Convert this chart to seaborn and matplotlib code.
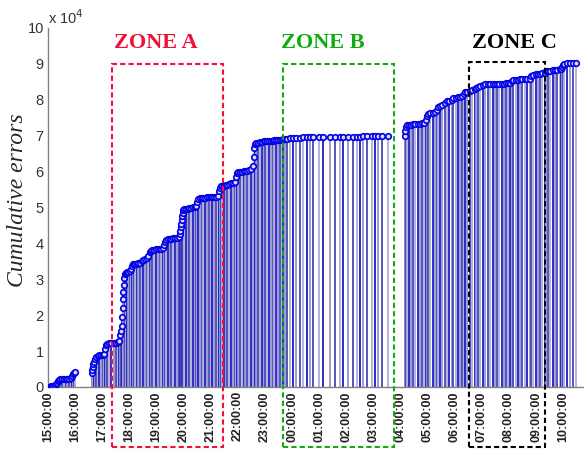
import numpy as np
import pandas as pd
import matplotlib
matplotlib.use("Agg")
import matplotlib.pyplot as plt
import matplotlib.transforms as mtransforms
from matplotlib.patches import Rectangle
import seaborn as sns

# tiempo en minutos desde las 15:00 y errores acumulados
minutes_a = [3, 6, 9, 12, 15, 18, 20, 22, 24, 27, 31, 35, 39, 43, 47, 51, 54, 56, 58, 60]
errors_a = [100, 150, 200, 300, 400, 700, 1200, 1700, 2000, 2100, 2100, 2200, 2200, 2300, 2300, 2500, 3000, 3500, 3900, 4300]

minutes_b = [97, 98, 99, 100, 102, 104, 107, 110, 113, 117, 121, 124, 126, 128, 131, 135, 140, 145, 150, 155]
errors_b = [4000, 4800, 5600, 6300, 7000, 7800, 8400, 8700, 8900, 9000, 9000, 9200, 10500, 11800, 12100, 12200, 12200, 12300, 12300, 12400]

minutes_c = [158, 160, 162, 163, 164, 165, 166, 167, 168, 169, 170, 172, 175, 178, 181, 184, 186, 188, 190, 193,
             196, 200, 204, 207, 210, 214, 218, 222, 226, 228, 231, 235, 239, 243, 247, 251, 255, 257, 259, 261,
             265, 269, 273, 277, 281, 285, 289, 292, 293, 294, 295, 296, 297, 298, 299, 301, 305, 309, 313, 317,
             321, 325, 328, 330, 332, 336, 340, 344, 348, 352, 356, 360, 364, 368, 372, 376, 378, 380, 383, 385,
             389, 393, 397, 401, 405, 409, 413, 416, 418, 421, 425, 429, 433, 437, 441, 445, 449, 453, 455, 457,
             459, 461, 465, 469, 473, 477, 481, 485, 489, 493, 497, 501, 505, 509, 513, 517, 521, 525]
errors_c = [12800, 14500, 15500, 17000, 19500, 22000, 24500, 26500, 28500, 30500, 31500, 31800, 31900, 32000, 32200, 33000, 33800, 34200, 34300, 34400,
            34400, 34500, 34500, 35000, 35500, 35600, 35800, 36500, 37500, 38000, 38200, 38300, 38400, 38400, 38500, 38500, 38600, 39500, 40500, 41000,
            41200, 41300, 41300, 41400, 41500, 41600, 41800, 42500, 43500, 44500, 45500, 46500, 47500, 48500, 49200, 49500, 49600, 49700, 49800, 49900,
            50000, 50100, 50300, 51500, 52500, 52600, 52600, 52700, 52700, 52800, 52800, 52900, 52900, 53000, 53000, 53200, 54500, 55500, 56000, 56000,
            56100, 56200, 56300, 56500, 56700, 56800, 57000, 58500, 59500, 59800, 59900, 60000, 60100, 60200, 60300, 60500, 60800, 61500, 64000, 66500,
            67800, 68000, 68100, 68200, 68300, 68400, 68400, 68500, 68500, 68600, 68600, 68700, 68800, 68800, 68900, 68900, 69000, 69100]

minutes_d = [529, 536, 542, 548, 558, 565, 573, 580, 587, 599, 609, 624, 635, 646, 653, 664, 675, 684, 691, 698,
             706, 717, 724, 731, 740, 753]
errors_d = [69200, 69300, 69300, 69400, 69400, 69500, 69500, 69500, 69600, 69600, 69600, 69600, 69700, 69700, 69700, 69700, 69700, 69700, 69700, 69800,
            69800, 69800, 69800, 69800, 69800, 69800]

minutes_e = [790, 791, 792, 794, 798, 803, 808, 813, 818, 823, 828, 833, 836, 838, 841, 846, 851, 856, 861, 864,
             868, 873, 878, 883, 888, 893, 897, 902, 907, 912, 917, 920, 923, 928, 933, 939, 944, 948, 952, 957,
             963, 968, 973, 979, 984, 989, 994, 999, 1004, 1009, 1014, 1019, 1023, 1027, 1030, 1035, 1040, 1045, 1050, 1055,
             1060, 1066, 1070, 1074, 1079, 1084, 1089, 1094, 1099, 1103, 1107, 1112, 1117, 1122, 1127, 1132, 1136, 1138, 1140, 1142,
             1148, 1155, 1162, 1168]
errors_e = [70000, 71200, 72400, 73000, 73100, 73100, 73200, 73200, 73300, 73300, 73400, 73500, 74500, 75500, 76000, 76200, 76300, 76500, 77200, 78000,
            78300, 78500, 79000, 79600, 79800, 80000, 80500, 80600, 80700, 80800, 81000, 81700, 82200, 82300, 82400, 82800, 83000, 83300, 83600, 83800,
            84200, 84300, 84300, 84300, 84400, 84400, 84400, 84500, 84500, 84500, 84600, 84600, 84700, 85200, 85500, 85600, 85600, 85700, 85700, 85800,
            85800, 85900, 86500, 87000, 87100, 87200, 87300, 87400, 87600, 87900, 88000, 88100, 88200, 88300, 88400, 88500, 88700, 89200, 89800, 90000,
            90200, 90300, 90300, 90300]

hour_labels = ['15:00:00', '16:00:00', '17:00:00', '18:00:00', '19:00:00', '20:00:00', '21:00:00',
               '22:00:00', '23:00:00', '00:00:00', '01:00:00', '02:00:00', '03:00:00', '04:00:00',
               '05:00:00', '06:00:00', '07:00:00', '08:00:00', '09:00:00', '10:00:00']

# zonas: etiqueta, inicio, fin (minutos), color
zone_labels = ['ZONE A', 'ZONE B', 'ZONE C']
zone_start = [142, 520, 932]
zone_end = [388, 766, 1100]
zone_colors = ['#f0103a', '#12aa12', '#000000']

df = pd.DataFrame({
    'minuto': minutes_a + minutes_b + minutes_c + minutes_d + minutes_e,
    'errores': errors_a + errors_b + errors_c + errors_d + errors_e,
})

sns.set_style("white")
plt.rcParams['font.family'] = ['Liberation Sans', 'DejaVu Sans']

fig = plt.figure(figsize=(5.84, 4.5), dpi=100)
ax = fig.add_axes([48 / 584, 63 / 450, 535 / 584, 359 / 450])

# tallos con tonos alternados (como el antialiasing de matlab)
tonos = ['#1c1cc4', '#9494d0', '#4848b4', '#acacda']
colores = [tonos[i % len(tonos)] for i in range(len(df))]
ax.vlines(df['minuto'], 0, df['errores'], colors=colores, linewidth=1.3, zorder=2)

sns.scatterplot(data=df, x='minuto', y='errores', ax=ax, marker='o', s=16,
                color='#dcdcf2', edgecolor='#0000e6', linewidth=1.2, zorder=3, legend=False)

ax.set_xlim(0, 1184)
ax.set_ylim(0, 100000)
ax.set_yticks(np.arange(0, 100001, 10000))
ax.set_yticklabels([str(i) for i in range(11)], fontsize=10.5, color='#333333')
ax.set_xticks([i * 60 for i in range(len(hour_labels))])
ax.set_xticklabels(hour_labels, rotation=90, fontsize=9, fontweight='bold', color='#222222')
ax.tick_params(direction='in', length=4, color='#808080', pad=3)
ax.set_xlabel('')
ax.set_ylabel('Cumulative errors', fontsize=17, fontstyle='italic', family=['Liberation Serif'])
ax.yaxis.set_label_coords(-0.037, 0.52)

for s in ['top', 'right']:
    ax.spines[s].set_visible(False)
for s in ['left', 'bottom']:
    ax.spines[s].set_color('#808080')
    ax.spines[s].set_linewidth(1.0)

fig.text(48 / 584, 1 - 24 / 450, r'x 10$^{4}$', fontsize=10.5, color='#333333', ha='left', va='baseline')

# rectangulos punteados de cada zona
trans = mtransforms.blended_transform_factory(ax.transData, ax.transAxes)
zone_top = [0.90, 0.90, 0.905]
zone_text_x = [239, 609, 1032]
for lab, x0, x1, col, top, tx in zip(zone_labels, zone_start, zone_end, zone_colors, zone_top, zone_text_x):
    rect = Rectangle((x0, -0.167), x1 - x0, top + 0.167, transform=trans, fill=False,
                     edgecolor=col, linestyle=(0, (2.5, 1.5)), linewidth=1.5, clip_on=False, zorder=5)
    ax.add_patch(rect)
    ax.text(tx, 0.958, lab, transform=trans, color=col, fontsize=16, fontweight='bold',
            family=['Liberation Serif'], ha='center', va='center')

plt.savefig('out.png', dpi=100)
plt.close()
